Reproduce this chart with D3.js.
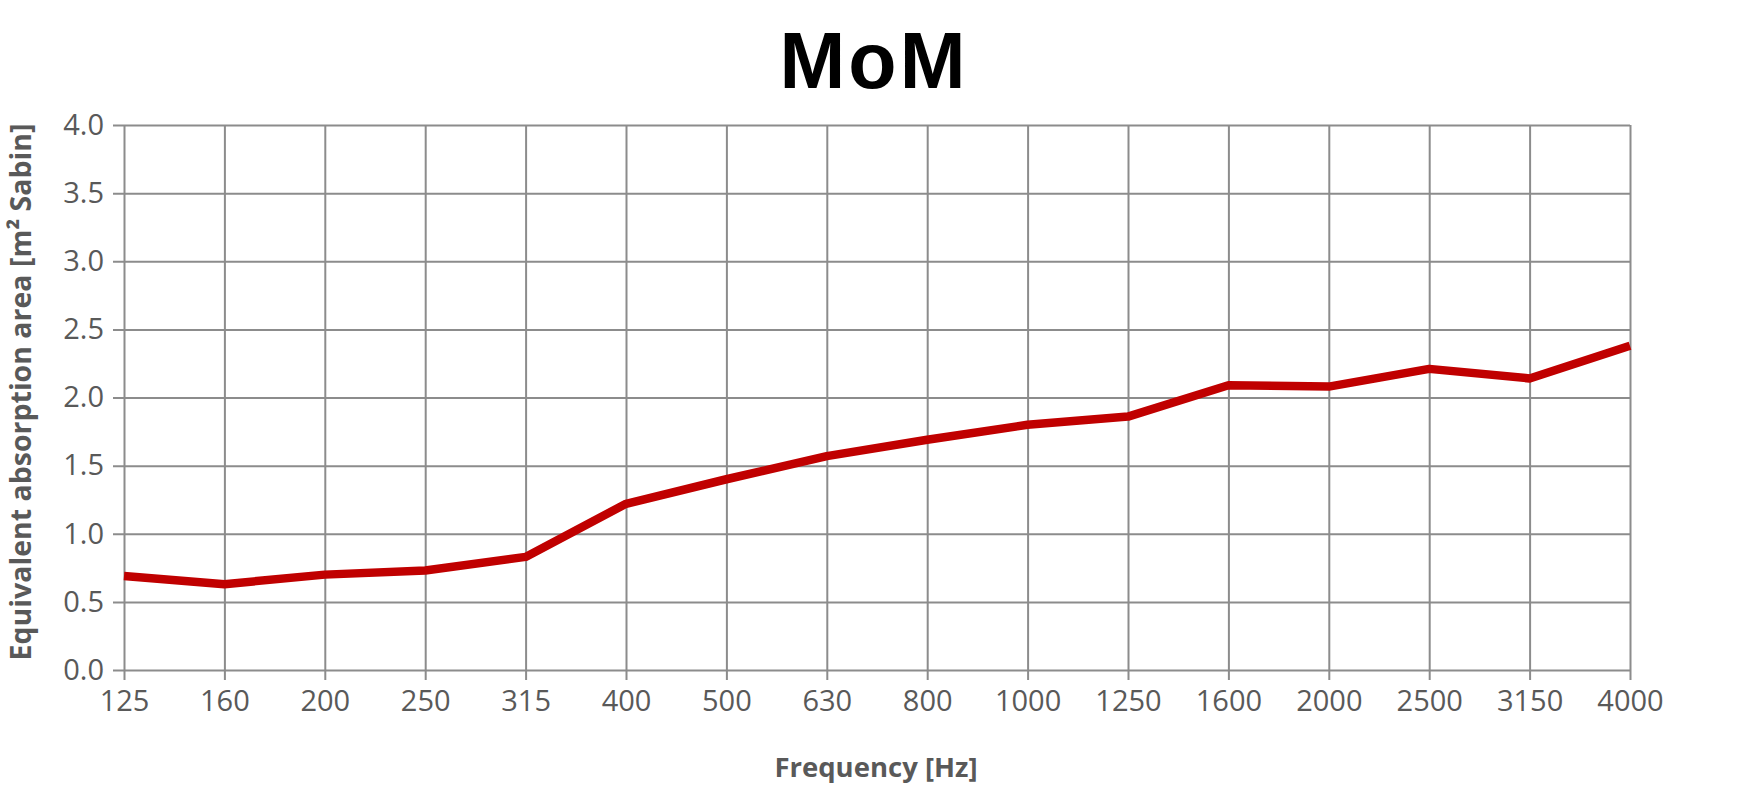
<!DOCTYPE html>
<html><head><meta charset="utf-8">
<script src="https://cdn.jsdelivr.net/npm/d3@7"></script>
<style>html,body{margin:0;padding:0;background:#fff;}</style>
</head><body>
<svg id="chart" width="1748" height="791"></svg>
<script>
const categories = ["125","160","200","250","315","400","500","630","800","1000","1250","1600","2000","2500","3150","4000"];
const values = [0.69,0.63,0.70,0.73,0.83,1.22,1.40,1.57,1.69,1.80,1.86,2.09,2.08,2.21,2.14,2.38];
const yTicks = [0,0.5,1.0,1.5,2.0,2.5,3.0,3.5,4.0];
const title = "MoM";
const xTitle = "Frequency [Hz]";
const yTitle = "Equivalent absorption area [m² Sabin]";

const svg = d3.select("#chart");
const L = 124, R = 1630, T = 125, B = 670;
const x = d3.scalePoint().domain(categories).range([L, R]);
const y = d3.scaleLinear().domain([0, 4]).range([B, T]);
const grid = "#8c8c8c", txt = "#595959";
const font = "'Open Sans', 'Noto Sans', sans-serif";

// horizontal gridlines + y axis
const yAxis = d3.axisLeft(y).tickValues(yTicks).tickFormat(d3.format(".1f"))
  .tickSize(-(R - L)).tickSizeOuter(0).tickPadding(20);
const gy = svg.append("g").attr("transform", `translate(${L},0)`).call(yAxis);
gy.select(".domain").remove();
gy.selectAll(".tick line").attr("x1", -11).attr("stroke", grid).attr("stroke-width", 2);
gy.selectAll(".tick text").attr("fill", txt).style("font-family", font).style("font-size", "29px");

// vertical gridlines + x axis
const xAxis = d3.axisBottom(x).tickSize(-(B - T)).tickSizeOuter(0).tickPadding(20);
const gx = svg.append("g").attr("transform", `translate(0,${B})`).call(xAxis);
gx.select(".domain").remove();
gx.selectAll(".tick line").attr("y1", 10).attr("stroke", grid).attr("stroke-width", 2);
gx.selectAll(".tick text").attr("fill", txt).style("font-family", font).style("font-size", "29px");

// line
const line = d3.line().x((d, i) => x(categories[i])).y(d => y(d));
svg.append("path").datum(values).attr("d", line)
  .attr("fill", "none").attr("stroke", "#C00000").attr("stroke-width", 8.5)
  .attr("stroke-linejoin", "round");

// titles
svg.append("text").attr("x", 874).attr("y", 88).attr("text-anchor", "middle")
  .style("font-family", "'Liberation Sans', Arial, sans-serif").style("font-weight", "bold")
  .style("font-size", "79px").style("letter-spacing", "3px").attr("fill", "#000").text(title);
svg.append("text").attr("x", 876).attr("y", 777).attr("text-anchor", "middle")
  .style("font-family", font).style("font-weight", "bold").style("font-size", "27.5px")
  .attr("fill", txt).text(xTitle);
svg.append("text").attr("transform", "translate(31,392) rotate(-90)").attr("text-anchor", "middle")
  .style("font-family", font).style("font-weight", "bold").style("font-size", "28.5px")
  .attr("fill", txt).text(yTitle);
</script>
</body></html>
